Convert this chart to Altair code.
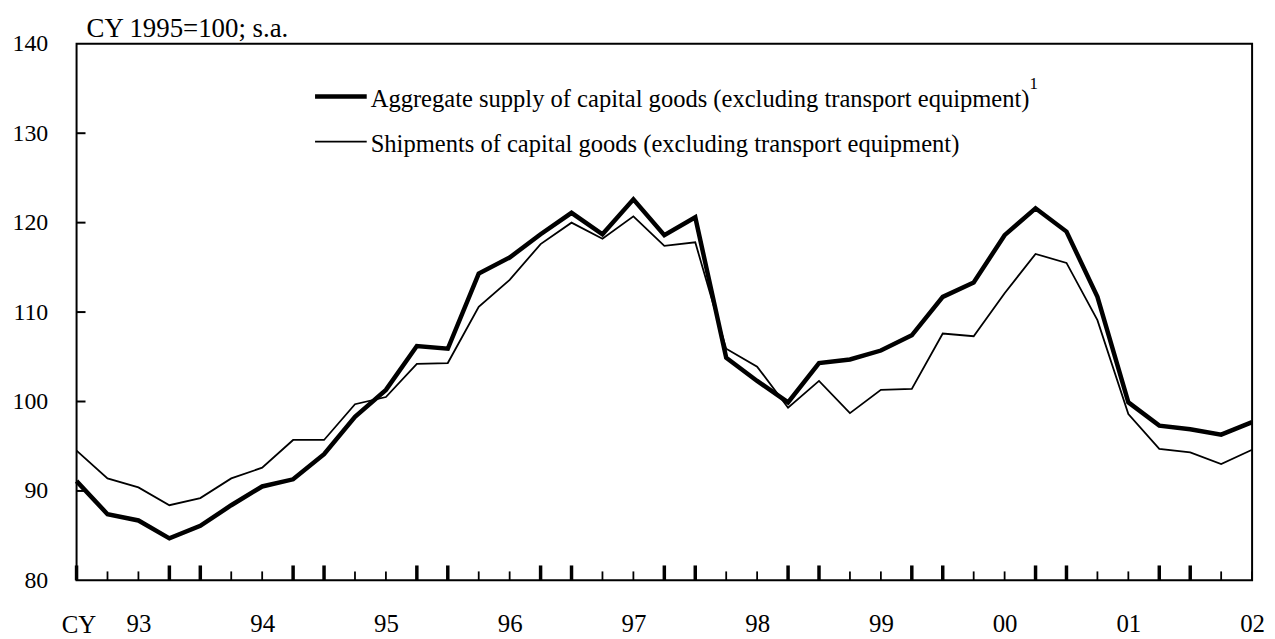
import altair as alt
import pandas as pd

# Quarterly index, 1993 Q1 .. 2002 Q3 (39 quarters)
quarter_idx = list(range(39))

aggregate_supply = [
    91.1, 87.4, 86.7, 84.7, 86.1, 88.4, 90.5, 91.3, 94.1, 98.3,
    101.3, 106.2, 105.9, 114.3, 116.1, 118.7, 121.1, 118.7, 122.6, 118.6,
    120.6, 104.9, 102.3, 99.9, 104.3, 104.7, 105.7, 107.4, 111.7, 113.3,
    118.6, 121.6, 119.0, 111.7, 99.9, 97.3, 96.9, 96.3, 97.7,
]
shipments = [
    94.5, 91.4, 90.4, 88.4, 89.2, 91.4, 92.6, 95.7, 95.7, 99.7,
    100.5, 104.2, 104.3, 110.6, 113.6, 117.6, 120.0, 118.2, 120.7, 117.4,
    117.8, 105.9, 103.9, 99.3, 102.3, 98.7, 101.3, 101.4, 107.6, 107.3,
    112.1, 116.5, 115.5, 109.1, 98.6, 94.7, 94.3, 93.0, 94.6,
]

year_labels = ["93", "94", "95", "96", "97", "98", "99", "00", "01", "02"]
year_label_pos = [2, 6, 10, 14, 18, 22, 26, 30, 34, 38]
y_ticks = [80, 90, 100, 110, 120, 130, 140]
inner_y_ticks = [90, 100, 110, 120, 130]

legend_1 = "Aggregate supply of capital goods (excluding transport equipment)"
legend_2 = "Shipments of capital goods (excluding transport equipment)"
unit_note = "CY 1995=100; s.a."

FONT = "Liberation Serif"
W, H = 1183, 540

df = pd.DataFrame({"q": quarter_idx, "agg": aggregate_supply, "ship": shipments})
ticks_df = pd.DataFrame({"q": quarter_idx})
ticks_df["tall"] = ticks_df["q"].apply(lambda i: i % 4 in (0, 3))
tall_df = ticks_df[ticks_df["tall"]]
small_df = ticks_df[~ticks_df["tall"]]
ytick_df = pd.DataFrame({"v": inner_y_ticks})

label_js = "[" + ",".join("'%s'" % s for s in year_labels) + "]"

x_scale = alt.Scale(domain=[0, 38], nice=False, zero=False)
y_scale = alt.Scale(domain=[80, 140], nice=False, zero=False)

base = alt.Chart(df)

x_axis = alt.Axis(
    values=year_label_pos,
    labelExpr=label_js + "[(datum.value - 2) / 4]",
    tickSize=0, domain=False, grid=False,
    labelFont=FONT, labelFontSize=25, labelColor="black",
    labelPadding=31, title=None, labelFlush=False,
)
y_axis = alt.Axis(
    values=y_ticks, tickSize=0, domain=False, grid=False,
    labelFont=FONT, labelFontSize=24, labelColor="black",
    labelPadding=29, title=None,
)

ship_line = base.mark_line(color="black", strokeWidth=1.8).encode(
    x=alt.X("q:Q", scale=x_scale, axis=x_axis),
    y=alt.Y("ship:Q", scale=y_scale, axis=y_axis),
)
agg_line = base.mark_line(color="black", strokeWidth=4.5, strokeJoin="miter").encode(
    x=alt.X("q:Q", scale=x_scale),
    y=alt.Y("agg:Q", scale=y_scale),
)

tall_ticks = alt.Chart(tall_df).mark_rule(color="black", strokeWidth=3.5).encode(
    x=alt.X("q:Q", scale=x_scale), y=alt.value(H), y2=alt.value(H - 15)
)
small_ticks = alt.Chart(small_df).mark_rule(color="black", strokeWidth=1.8).encode(
    x=alt.X("q:Q", scale=x_scale), y=alt.value(H), y2=alt.value(H - 9)
)
y_inner_ticks = alt.Chart(ytick_df).mark_rule(color="black", strokeWidth=2).encode(
    y=alt.Y("v:Q", scale=y_scale), x=alt.value(0), x2=alt.value(9)
)

def text_at(txt, x, y, size=25, align="left"):
    return alt.Chart(pd.DataFrame({"t": [txt]})).mark_text(
        font=FONT, fontSize=size, color="black", align=align, baseline="alphabetic"
    ).encode(text="t:N", x=alt.value(x), y=alt.value(y))

def legend_rule(y, width):
    return alt.Chart(pd.DataFrame({"a": [0]})).mark_rule(color="black", strokeWidth=width).encode(
        x=alt.value(240), x2=alt.value(292), y=alt.value(y)
    )

layers = [
    ship_line, agg_line, tall_ticks, small_ticks, y_inner_ticks,
    legend_rule(53, 4.5), text_at(legend_1, 296, 64, size=24.7),
    text_at("1", 959, 46, size=17),
    legend_rule(98.5, 1.8), text_at(legend_2, 296, 109, size=24.7),
    text_at(unit_note, 10, -7, size=27),
    text_at("CY", -15, 593),
]

chart = alt.layer(*layers).properties(
    width=W, height=H,
    background="white",
    autosize=alt.AutoSizeParams(type="none"),
    padding={"left": 69, "top": 34, "right": 15, "bottom": 57},
).configure_view(stroke="black", strokeWidth=2)

chart.save("out.html", embed_options={"renderer": "svg", "actions": False})
